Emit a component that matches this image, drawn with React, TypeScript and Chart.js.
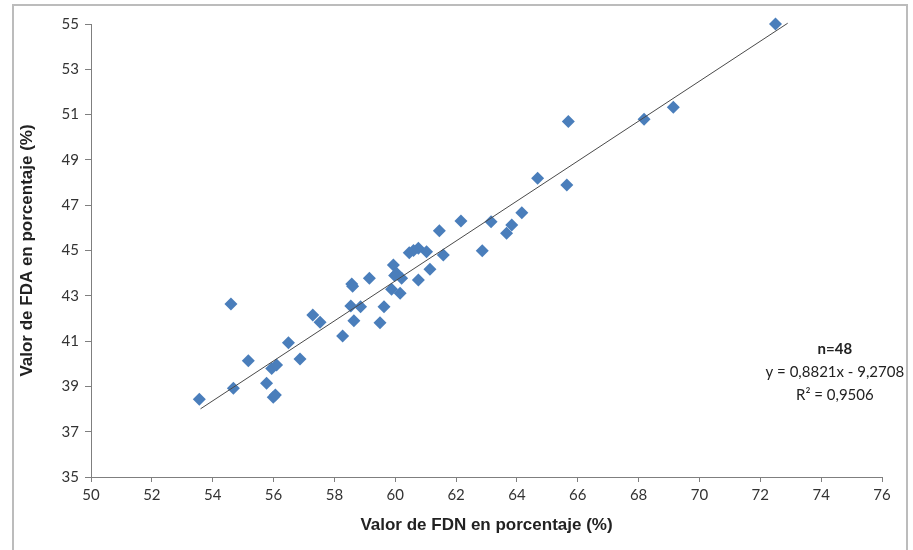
import React, { useEffect, useRef } from "react";
import { Chart, registerables } from "chart.js";

Chart.register(...registerables);

// Observed points: FDN (%) on x, FDA (%) on y
const FDN_VALUES: number[] = [
  53.56, 54.6, 54.68, 55.17, 55.77, 55.99, 56.06, 55.94, 56.1, 56.49,
  56.87, 57.29, 57.53, 58.27, 58.57, 58.6, 58.54, 58.86, 58.64, 59.15,
  59.5, 59.63, 59.94, 60.05, 59.98, 60.21, 59.88, 60.16, 60.46, 60.6,
  60.76, 61.03, 60.76, 61.14, 61.45, 61.58, 62.16, 62.86, 63.15, 63.66,
  63.83, 64.16, 64.68, 65.64, 65.69, 68.18, 69.14, 72.5,
];
const FDA_VALUES: number[] = [
  38.43, 42.64, 38.92, 40.13, 39.14, 38.52, 38.62, 39.79, 39.94, 40.93,
  40.21, 42.15, 41.83, 41.22, 43.52, 43.42, 42.55, 42.52, 41.9, 43.77,
  41.81, 42.52, 44.36, 43.99, 43.9, 43.77, 43.29, 43.11, 44.9, 45.0,
  45.1, 44.95, 43.7, 44.17, 45.87, 44.8, 46.3, 44.99, 46.27, 45.76,
  46.13, 46.67, 48.19, 47.89, 50.69, 50.79, 51.32, 55.0,
];

// Linear trend line (from the equation shown in the chart)
const TREND_SLOPE = 0.8821;
const TREND_INTERCEPT = -9.2708;
const TREND_X: number[] = [53.6, 72.9];

const ANNOTATION_LINES: string[] = ["n=48", "y = 0,8821x - 9,2708", "R² = 0,9506"];

const X_TITLE = "Valor de FDN en porcentaje (%)";
const Y_TITLE = "Valor de FDA en porcentaje (%)";
const X_MIN = 50, X_MAX = 76, Y_MIN = 35, Y_MAX = 55, STEP = 2;

export default function App() {
  const ref = useRef<HTMLCanvasElement | null>(null);

  useEffect(() => {
    if (!ref.current) return;
    const points = FDN_VALUES.map((x, i) => ({ x, y: FDA_VALUES[i] }));
    const trend = TREND_X.map((x) => ({ x, y: TREND_SLOPE * x + TREND_INTERCEPT }));

    const framePlugin = {
      id: "frameAndText",
      beforeDraw(chart: any) {
        const ctx = chart.ctx;
        ctx.save();
        ctx.fillStyle = "#ffffff";
        ctx.fillRect(0, 0, chart.width, chart.height);
        ctx.strokeStyle = "#bcbcbc";
        ctx.lineWidth = 2;
        ctx.strokeRect(13, 5, 894, 600);
        ctx.restore();
      },
      afterDraw(chart: any) {
        const ctx = chart.ctx;
        const xs = chart.scales.x;
        const ys = chart.scales.y;
        const cx = xs.getPixelForValue(74.45);
        const cy = ys.getPixelForValue(40.65);
        ctx.save();
        ctx.fillStyle = "#222222";
        ctx.textAlign = "center";
        ctx.textBaseline = "middle";
        ANNOTATION_LINES.forEach((t, i) => {
          ctx.font = (i === 0 ? "bold " : "") + "15px Lato, 'Open Sans', sans-serif";
          ctx.fillText(t, cx, cy + i * 23);
        });
        ctx.restore();
      },
    };

    const chart = new Chart(ref.current, {
      type: "scatter",
      data: {
        datasets: [
          {
            label: "FDA vs FDN",
            data: points,
            pointStyle: "rectRot",
            pointRadius: 6.5,
            pointHoverRadius: 6.5,
            backgroundColor: "#4A7EBB",
            borderColor: "#4A7EBB",
            borderWidth: 0,
            clip: false,
            order: 1,
          } as any,
          {
            type: "line",
            label: "Tendencia",
            data: trend,
            borderColor: "#4a4a4a",
            borderWidth: 1,
            pointRadius: 0,
            showLine: true,
            fill: false,
            clip: false,
            order: 0,
          } as any,
        ],
      },
      options: {
        animation: false,
        responsive: false,
        maintainAspectRatio: false,
        layout: { padding: { left: 0, right: 31, top: 24, bottom: 0 } },
        plugins: {
          legend: { display: false },
          tooltip: { enabled: false },
        },
        scales: {
          x: {
            type: "linear",
            min: X_MIN,
            max: X_MAX,
            ticks: {
              stepSize: STEP,
              color: "#333333",
              font: { family: "Lato, 'Open Sans', sans-serif", size: 15 },
              padding: 4,
              maxRotation: 0,
            },
            grid: {
              drawOnChartArea: false,
              drawTicks: true,
              tickLength: 5,
              color: "#7f7f7f",
            },
            border: { display: true, color: "#7f7f7f", width: 1 },
            title: {
              display: true,
              text: X_TITLE,
              color: "#222222",
              font: { family: "'Liberation Sans Narrow', 'Liberation Sans', Arial, sans-serif", size: 17, weight: "bold" },
              padding: { top: 4, bottom: 14 },
            },
            afterFit(scale: any) {
              scale.height = 73;
            },
          },
          y: {
            type: "linear",
            min: Y_MIN,
            max: Y_MAX,
            ticks: {
              stepSize: STEP,
              color: "#333333",
              font: { family: "Lato, 'Open Sans', sans-serif", size: 15 },
              padding: 6,
            },
            grid: {
              drawOnChartArea: false,
              drawTicks: true,
              tickLength: 6,
              color: "#7f7f7f",
            },
            border: { display: true, color: "#7f7f7f", width: 1 },
            title: {
              display: true,
              text: Y_TITLE,
              color: "#222222",
              font: { family: "'Liberation Sans Narrow', 'Liberation Sans', Arial, sans-serif", size: 17, weight: "bold" },
              padding: { top: 17, bottom: 4 },
            },
            afterFit(scale: any) {
              scale.width = 91;
            },
          },
        },
      },
      plugins: [framePlugin],
    });
    return () => chart.destroy();
  }, []);

  return (
    <div style={{ position: "fixed", left: 0, top: 0, width: 913, height: 550, background: "#fff" }}>
      <canvas ref={ref} width={913} height={550} style={{ display: "block", width: 913, height: 550 }} />
    </div>
  );
}
